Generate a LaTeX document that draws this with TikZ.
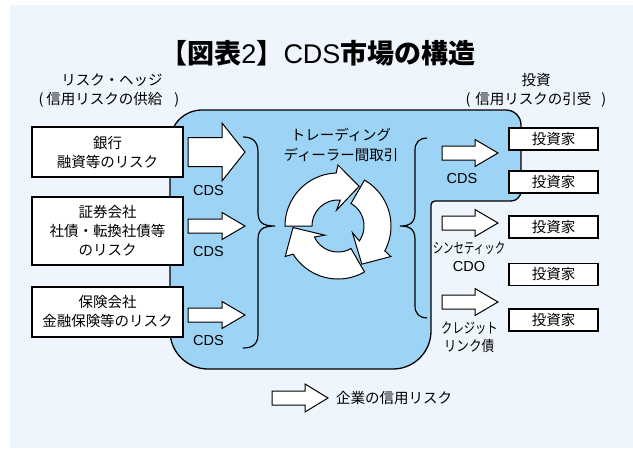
\documentclass[tikz,border=0pt]{standalone}
\usepackage{fontspec}
\usepackage{graphicx}
\setmainfont{Liberation Sans}
\newfontfamily\jp{Noto Sans CJK JP}
\definecolor{panel}{HTML}{EEF5FC}
\definecolor{market}{HTML}{9DD3F4}
\newcommand{\blockarrow}[6]{%
  \draw[arrowshape] (#1,#2-#5) -- (#1+#3-#4,#2-#5) -- (#1+#3-#4,#2-#6) -- (#1+#3,#2)
    -- (#1+#3-#4,#2+#6) -- (#1+#3-#4,#2+#5) -- (#1,#2+#5) -- cycle;}
\begin{document}
\begin{tikzpicture}[x=1pt,y=-1pt,
  jtxt/.style={font=\jp\fontsize{14.5}{19}\selectfont, inner sep=0pt, align=center},
  ltxt/.style={font=\fontsize{14.5}{19}\selectfont, inner sep=0pt},
  srcbox/.style={draw=black, fill=white, line width=1.5pt, minimum width=151pt, inner sep=0pt, jtxt},
  invbox/.style={draw=black, fill=white, line width=1.5pt, minimum width=89pt, minimum height=22pt, inner sep=0pt, jtxt},
  arrowshape/.style={draw=black, fill=white, line width=1pt, line join=miter},
  bracepath/.style={draw=black, line width=1.2pt},
  cyc/.style={draw=black, fill=white, line width=1pt}]
\useasboundingbox (0,0) rectangle (633,448);
\fill[white] (0,0) rectangle (633,448);
\fill[panel] (10,5) rectangle (633,448);
% market shape
\draw[fill=market, line width=1.3pt] (170,142) .. controls (170,124.3) and (184.3,110) .. (202,110)
  -- (506,110) .. controls (514.3,110) and (521,116.7) .. (521,125)
  -- (521,191) .. controls (521,196.5) and (516.5,201) .. (511,201)
  -- (435,201) .. controls (432.8,201) and (431,202.8) .. (431,205)
  -- (431,331) .. controls (431,352) and (414,369) .. (393,369)
  -- (208,369) .. controls (187,369) and (170,352) .. (170,331) -- cycle;
% title
\node[inner sep=0pt] (title) at (318,53) {\fontsize{27}{30}\selectfont{\jp\bfseries 【図表}2{\jp\bfseries 】}CDS{\jp\bfseries 市場の構造}};
\node[jtxt] (hedge) at (112,80) {リスク・ヘッジ};
\node[jtxt] (hedge2) at (109,100) {(\hspace{3pt}信用リスクの供給\hspace{12pt})};
\node[jtxt] (invest) at (536,80) {投資};
\node[jtxt] (invest2) at (536,100) {(\hspace{5pt}信用リスクの引受\hspace{10pt})};
% source boxes
\node[srcbox, minimum height=50pt] (bank) at (107.5,152) {銀行\\融資等のリスク};
\node[srcbox, minimum height=68pt] (sec) at (107.5,231) {証券会社\\社債・転換社債等\\のリスク};
\node[srcbox, minimum height=50pt] (ins) at (107.5,312) {保険会社\\金融保険等のリスク};
% left arrows
\blockarrow{188}{152}{57}{23}{14.5}{29}
\blockarrow{188}{226}{57}{23}{7}{13.5}
\blockarrow{188}{315}{57}{23}{7}{13.5}
\node[ltxt] (cds1) at (208.5,191) {CDS};
\node[ltxt] (cds2) at (208.5,252) {CDS};
\node[ltxt] (cds3) at (208.5,341) {CDS};
% braces
\draw[bracepath] (243,137) .. controls (253,137) and (258,142) .. (258,152) -- (258,212)
  .. controls (258,222) and (262,226) .. (275,226)
  .. controls (262,226) and (258,230) .. (258,240) -- (258,334)
  .. controls (258,344) and (253,348) .. (243,348);
\draw[bracepath] (427,138) .. controls (420,138) and (415,142) .. (415,150) -- (415,212)
  .. controls (415,222) and (411,226) .. (400,226)
  .. controls (411,226) and (415,230) .. (415,240) -- (415,306)
  .. controls (415,314) and (420,318) .. (427,318);
% center text
\node[jtxt] (trade1) at (341,135) {トレーディング};
\node[jtxt] (trade2) at (341,155) {ディーラー間取引};
% cycle (math-oriented polar coordinates around the centre)
\begin{scope}[shift={(338,226)}, yscale=-1]
\foreach \a in {180,60,-60}{
  \draw[cyc] plot[domain=\a:\a-88, samples=30] ({\x}:53)
    -- ({\a-90}:61) -- ({\a-118}:45) -- ({\a-85}:16) -- ({\a-95}:26)
    -- plot[domain=\a-95:\a, samples=30] ({\x}:26) -- cycle;
}
\end{scope}
% right arrows
\blockarrow{442}{153}{56}{23}{7}{13.5}
\blockarrow{442}{223}{56}{23}{7}{13.5}
\blockarrow{442}{302}{56}{23}{7}{13.5}
\node[ltxt] (cds4) at (462,179) {CDS};
\node[jtxt] (syn) at (469,248) {\scalebox{0.72}[1]{シンセティック}};
\node[ltxt] (cdo) at (469,267) {CDO};
\node[jtxt] (cl1) at (469.5,328) {\scalebox{0.78}[1]{クレジット}};
\node[jtxt] (cl2) at (469,346) {\scalebox{0.87}[1]{リンク債}};
% investors
\node[invbox] (i1) at (553.5,139) {投資家};
\node[invbox] (i2) at (553.5,182) {投資家};
\node[invbox] (i3) at (553.5,227) {投資家};
\node[invbox] (i4) at (553.5,274.5) {投資家};
\node[invbox] (i5) at (553.5,320) {投資家};
% legend
\blockarrow{272}{398}{56}{23}{7}{14}
\node[jtxt, anchor=west] (legend) at (336,398) {企業の信用リスク};
\end{tikzpicture}
\end{document}
